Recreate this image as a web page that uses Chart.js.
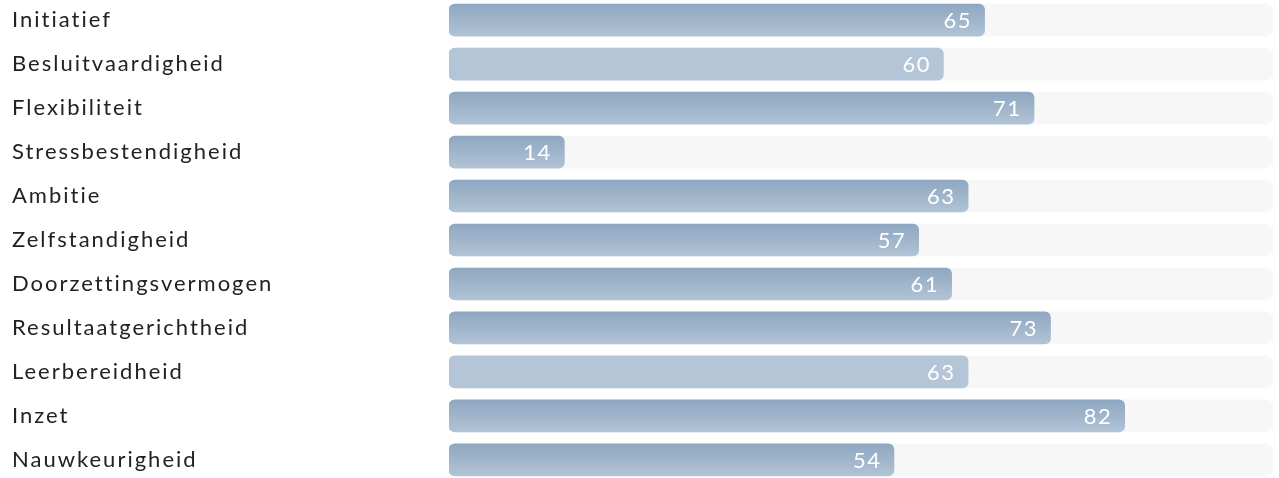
<!DOCTYPE html>
<html>
<head>
<meta charset="utf-8">
<script src="https://cdn.jsdelivr.net/npm/chart.js@4/dist/chart.umd.min.js"></script>
<style>
  html, body { margin: 0; padding: 0; background: #fff; overflow: hidden; }
  #wrap { position: absolute; left: 0; top: -15px; width: 1279px; height: 510px; }
</style>
</head>
<body>
<div id="wrap"><canvas id="c"></canvas></div>
<script>
const categories = ["Initiatief", "Besluitvaardigheid", "Flexibiliteit", "Stressbestendigheid", "Ambitie", "Zelfstandigheid", "Doorzettingsvermogen", "Resultaatgerichtheid", "Leerbereidheid", "Inzet", "Nauwkeurigheid"];
const scores = [65, 60, 71, 14, 63, 57, 61, 73, 63, 82, 54];
const maxScore = [100, 100, 100, 100, 100, 100, 100, 100, 100, 100, 100];
const mutedIndices = [1, 8];

const BAR_H = 32;

function barFill(ctx) {
  const chart = ctx.chart;
  if (!chart.chartArea) return '#a3b7cc';
  if (mutedIndices.includes(ctx.dataIndex)) return '#b4c5d7';
  const y = chart.scales.y.getPixelForValue(ctx.dataIndex);
  const g = chart.ctx.createLinearGradient(0, y - BAR_H / 2, 0, y + BAR_H / 2);
  g.addColorStop(0, '#8ea7c1');
  g.addColorStop(1, '#b2c3d5');
  return g;
}

const spacing = {
  id: 'spacing',
  beforeDraw(chart) { chart.ctx.letterSpacing = '2px'; }
};

const valueLabels = {
  id: 'valueLabels',
  afterDatasetsDraw(chart) {
    const meta = chart.getDatasetMeta(0);
    const c = chart.ctx;
    c.save();
    c.letterSpacing = '1.5px';
    c.fillStyle = '#ffffff';
    c.font = '22px Lato';
    c.textAlign = 'right';
    c.textBaseline = 'middle';
    meta.data.forEach((bar, i) => {
      c.fillText(String(scores[i]), bar.x - 12.5, bar.y + 1);
    });
    c.restore();
  }
};

new Chart(document.getElementById('c'), {
  type: 'bar',
  data: {
    labels: categories,
    datasets: [
      {
        data: scores,
        backgroundColor: barFill,
        borderRadius: 6,
        borderSkipped: false,
        barThickness: BAR_H,
        grouped: false,
        order: 1
      },
      {
        data: maxScore,
        backgroundColor: '#f7f7f7',
        borderRadius: 8,
        borderSkipped: false,
        barThickness: BAR_H,
        grouped: false,
        order: 2
      }
    ]
  },
  options: {
    indexAxis: 'y',
    responsive: true,
    maintainAspectRatio: false,
    animation: false,
    layout: { padding: { left: 12, right: 6, top: 0, bottom: 0 } },
    plugins: { legend: { display: false }, tooltip: { enabled: false } },
    scales: {
      x: { display: false, min: 0, max: 100 },
      y: {
        grid: { display: false },
        border: { display: false },
        afterFit(scale) { scale.width = 437; },
        ticks: {
          crossAlign: 'far',
          color: '#222222',
          font: { family: 'Lato', size: 22 },
          padding: 0
        }
      }
    }
  },
  plugins: [spacing, valueLabels]
});
</script>
</body>
</html>
